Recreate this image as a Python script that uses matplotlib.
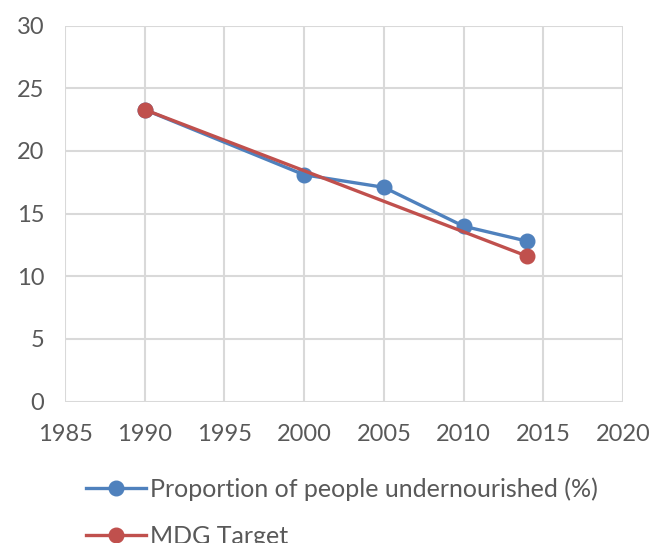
import matplotlib.pyplot as plt

plt.rcParams['font.family'] = ['Lato', 'DejaVu Sans']

# data
years = [1990, 2000, 2005, 2010, 2014]
undernourished = [23.3, 18.1, 17.1, 14.0, 12.8]
target_years = [1990, 2014]
target = [23.3, 11.6]

x_ticks = [1985, 1990, 1995, 2000, 2005, 2010, 2015, 2020]
y_ticks = [0, 5, 10, 15, 20, 25, 30]

blue = '#4f81bd'
red = '#c0504d'
grey_txt = '#595959'
grid_c = '#d9d9d9'

fig = plt.figure(figsize=(6.53, 5.43), dpi=100)
ax = fig.add_axes([0.0995, 0.2604, 0.8545, 0.6923])

ax.plot(years, undernourished, color=blue, lw=2.4, marker='o', ms=10.5,
        label='Proportion of people undernourished (%)', zorder=3)
ax.plot(target_years, target, color=red, lw=2.4, marker='o', ms=10.5,
        label='MDG Target', zorder=4)

ax.set_xlim(1985, 2020)
ax.set_ylim(0, 30)
ax.set_xticks(x_ticks)
ax.set_yticks(y_ticks)
ax.grid(True, color=grid_c, lw=1.5)
ax.set_axisbelow(True)
for s in ax.spines.values():
    s.set_visible(False)
ax.tick_params(length=0, labelsize=17, labelcolor=grey_txt)
ax.tick_params(axis='x', pad=16)
ax.tick_params(axis='y', pad=15)

leg = fig.legend(loc='upper left', bbox_to_anchor=(0.132, 0.121), frameon=False,
                 fontsize=18, labelcolor=grey_txt, handlelength=2.4,
                 handletextpad=0.15, labelspacing=0.95, borderaxespad=0,
                 borderpad=0)

fig.savefig('out.png', dpi=100)
